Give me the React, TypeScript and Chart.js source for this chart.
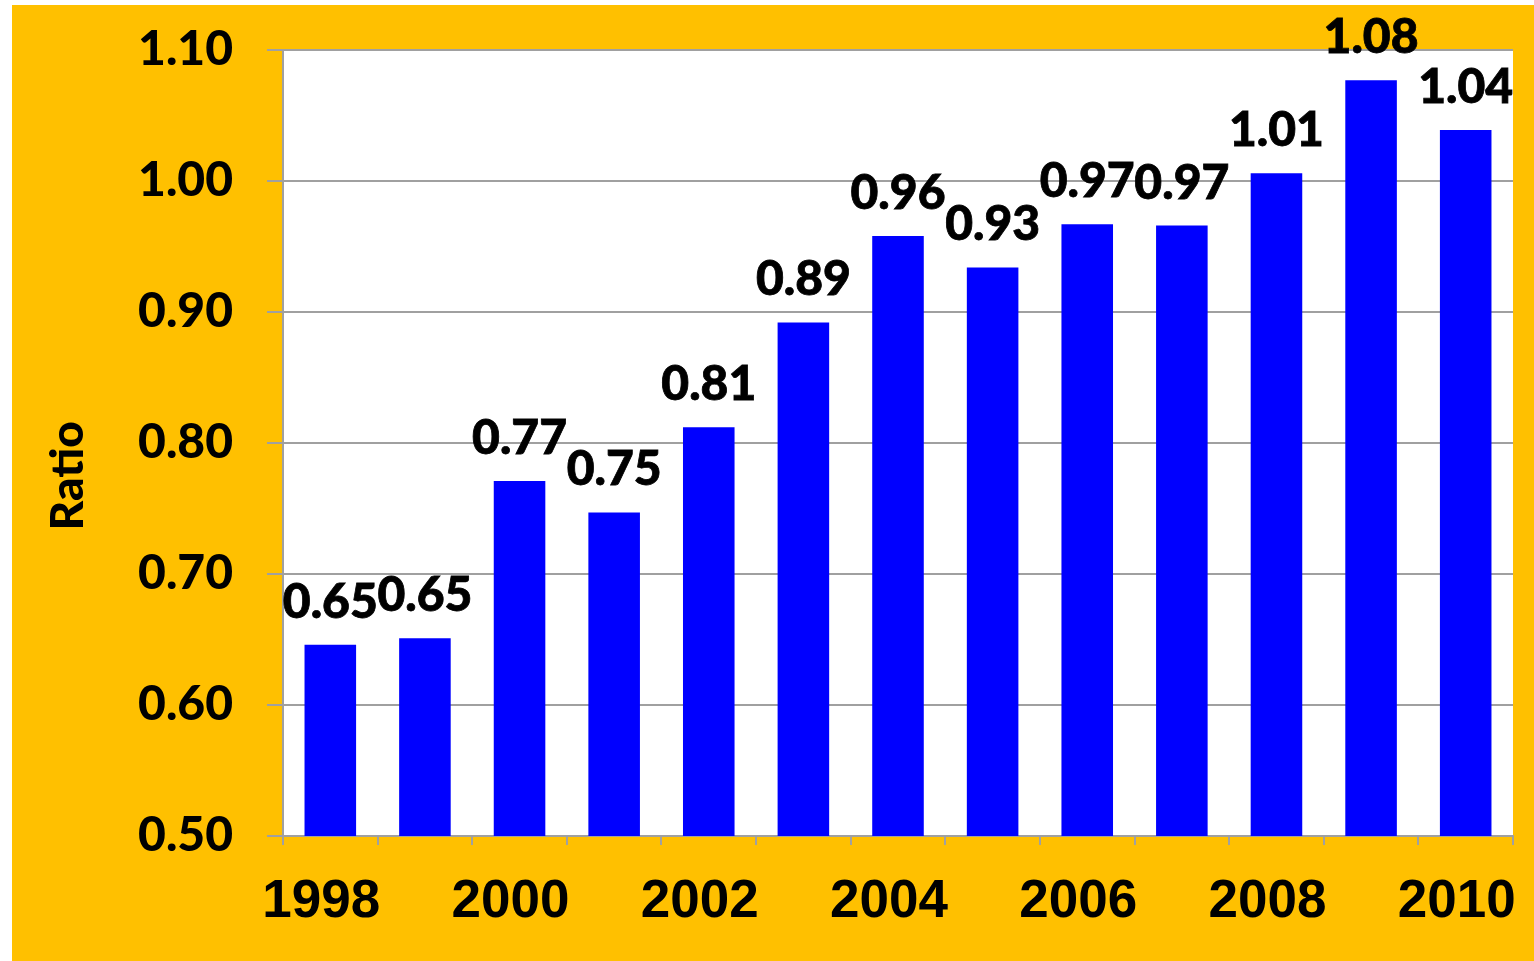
import React, { useEffect, useRef } from 'react';
import { Chart, registerables } from 'chart.js';

Chart.register(...registerables);

const years = ['1998', '1999', '2000', '2001', '2002', '2003', '2004', '2005', '2006', '2007', '2008', '2009', '2010'];
const ratios = [0.646, 0.651, 0.771, 0.747, 0.812, 0.892, 0.958, 0.934, 0.967, 0.966, 1.006, 1.077, 1.039];
const yMin = 0.5;
const yMax = 1.1;
const yStep = 0.1;
const axisTitle = 'Ratio';

const GOLD = '#FFC000';
const BLUE = '#0000FF';
const GRID = '#A0A0A0';
const LABEL_FONT = 'Lato, "Noto Sans", sans-serif';
const X_FONT = '"Liberation Sans", Arial, sans-serif';

const plotBackground = {
  id: 'plotBackground',
  beforeDraw(chart: any) {
    const { ctx, chartArea } = chart;
    ctx.save();
    ctx.fillStyle = '#FFFFFF';
    ctx.fillRect(chartArea.left, chartArea.top, chartArea.right - chartArea.left, chartArea.bottom - chartArea.top);
    ctx.restore();
  },
};

const valueLabels = {
  id: 'valueLabels',
  afterDatasetsDraw(chart: any) {
    const ctx = chart.ctx;
    const meta = chart.getDatasetMeta(0);
    ctx.save();
    ctx.font = `900 48px ${LABEL_FONT}`;
    ctx.fillStyle = '#000';
    ctx.strokeStyle = '#000';
    ctx.lineWidth = 0.8;
    ctx.textAlign = 'center';
    ctx.textBaseline = 'alphabetic';
    meta.data.forEach((bar: any, i: number) => {
      const txt = ratios[i].toFixed(2);
      ctx.fillText(txt, bar.x, bar.y - 27);
      ctx.strokeText(txt, bar.x, bar.y - 27);
    });
    ctx.restore();
  },
};

export default function App() {
  const ref = useRef<HTMLCanvasElement | null>(null);

  useEffect(() => {
    if (!ref.current) return;
    const chart = new Chart(ref.current, {
      type: 'bar',
      data: {
        labels: years,
        datasets: [
          {
            data: ratios,
            backgroundColor: BLUE,
            borderWidth: 0,
            barPercentage: 0.545,
            categoryPercentage: 1,
          },
        ],
      },
      options: {
        animation: false,
        responsive: true,
        maintainAspectRatio: false,
        layout: { padding: { top: 45, right: 21, left: 0, bottom: 0 } },
        plugins: {
          legend: { display: false },
          tooltip: { enabled: false },
        },
        scales: {
          x: {
            type: 'category',
            offset: true,
            grid: {
              offset: true,
              drawOnChartArea: false,
              drawTicks: true,
              tickLength: 9,
              color: GRID,
              lineWidth: 2,
            },
            border: { color: GRID, width: 2 },
            ticks: {
              autoSkip: false,
              maxRotation: 0,
              minRotation: 0,
              padding: 26,
              labelOffset: -9,
              color: '#000',
              font: { family: X_FONT, weight: 'bold', size: 53 },
              callback: (_v: any, i: number) => (i % 2 === 0 ? years[i] : ''),
            },
            afterFit: (s: any) => {
              s.height = 125;
              s.paddingLeft = 0;
              s.paddingRight = 0;
            },
          },
          y: {
            min: yMin,
            max: yMax,
            grid: {
              color: GRID,
              lineWidth: 2,
              drawTicks: true,
              tickLength: 16,
            },
            border: { color: GRID, width: 2 },
            ticks: {
              stepSize: yStep,
              padding: 34,
              color: '#000',
              font: { family: LABEL_FONT, weight: '900', size: 48 },
              callback: (v: any) => Number(v).toFixed(2),
            },
            title: {
              display: true,
              text: axisTitle + '\u0020\u0020\u0020\u0020\u0020\u0020',
              color: '#000',
              font: { family: LABEL_FONT, weight: '900', size: 46 },
              padding: { top: 29, bottom: 0 },
            },
            afterFit: (s: any) => {
              s.width = 271;
              s.paddingTop = 0;
              s.paddingBottom = 0;
            },
          },
        },
      },
      plugins: [plotBackground, valueLabels],
    });
    return () => chart.destroy();
  }, []);

  return (
    <div
      style={{
        position: 'absolute',
        left: 12,
        top: 5,
        width: 1522,
        height: 956,
        background: GOLD,
      }}
    >
      <canvas ref={ref} />
    </div>
  );
}
